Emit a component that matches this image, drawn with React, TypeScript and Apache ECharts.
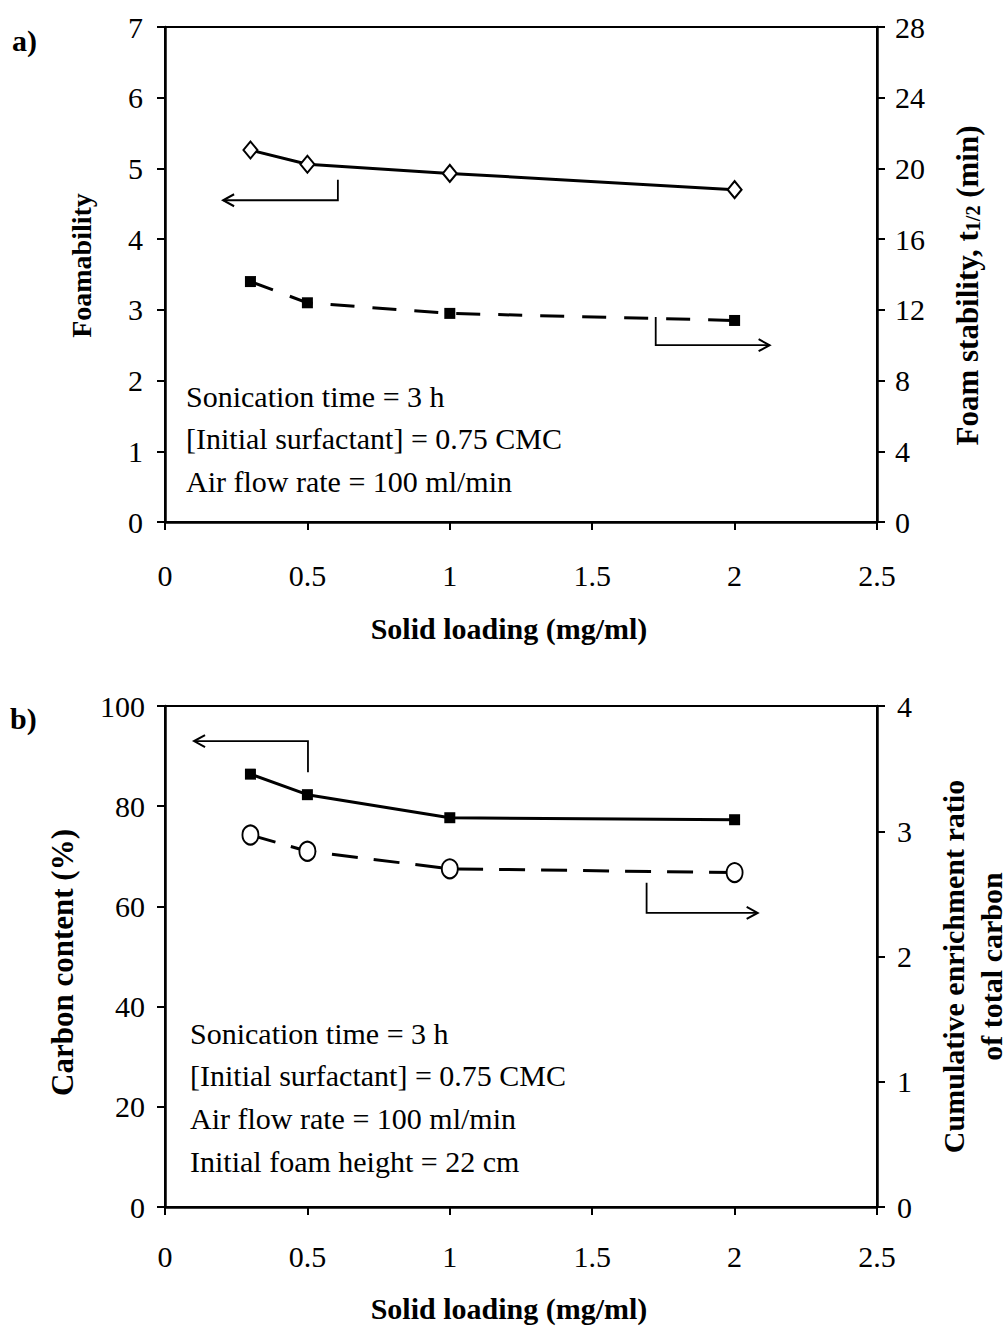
import React, { useEffect, useRef } from "react";
import * as echarts from "echarts";

// ---------- data ----------
const solidLoading = [0.3, 0.5, 1, 2];
const foamability = [5.26, 5.06, 4.93, 4.7];
const foamStability = [13.6, 12.4, 11.8, 11.4];
const carbonContent = [86.4, 82.3, 77.7, 77.3];
const enrichmentRatio = [2.97, 2.84, 2.7, 2.67];

// arrows in data coordinates (x, left-axis y)
const arrowA_left = [[0.607, 4.84], [0.607, 4.55], [0.204, 4.55]];
const arrowA_right = [[1.723, 2.9], [1.723, 2.5], [2.123, 2.5]];
const arrowB_left = [[0.502, 86.8], [0.502, 93.0], [0.102, 93.0]];
const arrowB_right = [[1.691, 64.7], [1.691, 58.7], [2.081, 58.7]];

const notesA = ["Sonication time = 3 h", "[Initial surfactant] = 0.75 CMC", "Air flow rate = 100 ml/min"];
const notesB = [
  "Sonication time = 3 h",
  "[Initial surfactant] = 0.75 CMC",
  "Air flow rate = 100 ml/min",
  "Initial foam height = 22 cm",
];

const FONT = "'Liberation Serif', 'Times New Roman', serif";

const zip = (xs: number[], ys: number[]) => xs.map((x, i) => [x, ys[i]]);

export default function App() {
  const ref = useRef<HTMLDivElement>(null);

  useEffect(() => {
    document.body.style.margin = "0";
    const chart = echarts.init(ref.current!, undefined, { renderer: "svg" });

    const axisCommon = {
      type: "value" as const,
      splitLine: { show: false },
      axisLine: { show: true, lineStyle: { color: "#000", width: 2.5 } },
      axisTick: { show: true, length: 8, lineStyle: { color: "#000", width: 2 } },
      axisLabel: { color: "#000", fontSize: 30, fontFamily: FONT },
      nameLocation: "middle" as const,
      nameTextStyle: { color: "#000", fontSize: 29, fontWeight: "bold" as const, fontFamily: FONT },
    };

    const nameStyle = (fontSize: number, padding: number[], extra: any = {}) => ({
      ...axisCommon.nameTextStyle,
      fontSize,
      padding,
      ...extra,
    });

    const xAxisDef = (gi: number, gap: number, margin: number) => ({
      ...axisCommon,
      gridIndex: gi,
      min: 0,
      max: 2.5,
      interval: 0.5,
      name: "Solid loading (mg/ml)",
      nameGap: gap,
      nameTextStyle: nameStyle(30, [0, 24, 0, 0]),
      axisLabel: { ...axisCommon.axisLabel, margin },
    });

    const gridCommon = {
      show: true,
      borderColor: "#000",
      borderWidth: 2,
      containLabel: false,
      outerBoundsMode: "none",
    };

    const option: any = {
      animation: false,
      backgroundColor: "#fff",
      grid: [
        { ...gridCommon, left: 165, top: 27, width: 712, height: 495 },
        { ...gridCommon, left: 165, top: 706, width: 712, height: 501 },
      ],
      xAxis: [xAxisDef(0, 91, 38), xAxisDef(1, 86, 34)],
      yAxis: [
        {
          ...axisCommon,
          gridIndex: 0,
          position: "left",
          min: 0,
          max: 7,
          interval: 1,
          name: "Foamability",
          nameRotate: 90,
          nameGap: 70,
          nameTextStyle: nameStyle(28, [0, 0, 0, 18]),
          axisLabel: { ...axisCommon.axisLabel, margin: 22 },
        },
        {
          ...axisCommon,
          gridIndex: 0,
          position: "right",
          min: 0,
          max: 28,
          interval: 4,
          name: "Foam stability, t{s|1/2} (min)",
          nameRotate: 90,
          nameGap: 75,
          axisLabel: { ...axisCommon.axisLabel, margin: 18 },
          nameTextStyle: nameStyle(31, [0, 22, 0, 0], {
            rich: {
              s: { fontSize: 20, fontWeight: "bold", fontFamily: FONT, color: "#000", padding: [10, 0, 0, 0] },
            },
          }),
        },
        {
          ...axisCommon,
          gridIndex: 1,
          position: "left",
          min: 0,
          max: 100,
          interval: 20,
          name: "Carbon content (%)",
          nameRotate: 90,
          nameGap: 87,
          nameTextStyle: nameStyle(31, [0, 12, 0, 0]),
          axisLabel: { ...axisCommon.axisLabel, margin: 20 },
        },
        {
          ...axisCommon,
          gridIndex: 1,
          position: "right",
          min: 0,
          max: 4,
          interval: 1,
          name: "Cumulative enrichment ratio\nof total carbon",
          nameRotate: 90,
          nameGap: 57,
          axisLabel: { ...axisCommon.axisLabel, margin: 20 },
          nameTextStyle: nameStyle(30, [0, 20, 0, 0], { lineHeight: 38 }),
        },
      ],
      series: [
        {
          type: "line",
          xAxisIndex: 0,
          yAxisIndex: 0,
          data: zip(solidLoading, foamability),
          symbol: "diamond",
          symbolSize: [14, 17],
          itemStyle: { color: "#fff", borderColor: "#000", borderWidth: 2 },
          lineStyle: { color: "#000", width: 3 },
        },
        {
          type: "line",
          xAxisIndex: 0,
          yAxisIndex: 1,
          data: zip(solidLoading, foamStability),
          symbol: "rect",
          symbolSize: 11,
          itemStyle: { color: "#000" },
          lineStyle: { color: "#000", width: 3, type: [24, 18] },
        },
        {
          type: "line",
          xAxisIndex: 1,
          yAxisIndex: 2,
          data: zip(solidLoading, carbonContent),
          symbol: "rect",
          symbolSize: 11,
          itemStyle: { color: "#000" },
          lineStyle: { color: "#000", width: 3 },
        },
        {
          type: "line",
          xAxisIndex: 1,
          yAxisIndex: 3,
          data: zip(solidLoading, enrichmentRatio),
          symbol: "circle",
          symbolSize: [16, 19],
          itemStyle: { color: "#fff", borderColor: "#000", borderWidth: 2 },
          lineStyle: { color: "#000", width: 3, type: [26, 16] },
        },
      ],
    };

    chart.setOption(option);

    const toPx = (gi: number, yi: number, pts: number[][]) =>
      pts.map((p) => chart.convertToPixel({ xAxisIndex: gi, yAxisIndex: yi }, p) as number[]);

    const arrow = (pts: number[][]) => {
      const tip = pts[pts.length - 1];
      const prev = pts[pts.length - 2];
      const dir = Math.sign(tip[0] - prev[0]);
      const head = [
        [tip[0] - dir * 11, tip[1] - 6],
        [tip[0], tip[1]],
        [tip[0] - dir * 11, tip[1] + 6],
      ];
      return [
        { type: "polyline", shape: { points: pts }, style: { stroke: "#000", lineWidth: 1.8, fill: "none" } },
        { type: "polyline", shape: { points: head }, style: { stroke: "#000", lineWidth: 2, fill: "none" } },
      ];
    };

    const noteText = (lines: string[], x: number, y0: number, step: number) =>
      lines.map((t, i) => ({
        type: "text",
        x,
        y: y0 + i * step,
        style: {
          text: t,
          fill: "#000",
          fontSize: 30,
          fontFamily: FONT,
          verticalAlign: "middle",
          align: "left",
        },
      }));

    const graphics: any[] = [
      ...arrow(toPx(0, 0, arrowA_left)),
      ...arrow(toPx(0, 0, arrowA_right)),
      ...arrow(toPx(1, 2, arrowB_left)),
      ...arrow(toPx(1, 2, arrowB_right)),
      ...noteText(notesA, 186, 396, 42.5),
      ...noteText(notesB, 190, 1033, 42.7),
      {
        type: "text",
        x: 12,
        y: 40,
        style: { text: "a)", fill: "#000", fontSize: 30, fontWeight: "bold", fontFamily: FONT, verticalAlign: "middle" },
      },
      {
        type: "text",
        x: 10,
        y: 718,
        style: { text: "b)", fill: "#000", fontSize: 30, fontWeight: "bold", fontFamily: FONT, verticalAlign: "middle" },
      },
    ];

    chart.setOption({ graphic: graphics });

    return () => chart.dispose();
  }, []);

  return <div ref={ref} style={{ width: 1007, height: 1329 }} />;
}
